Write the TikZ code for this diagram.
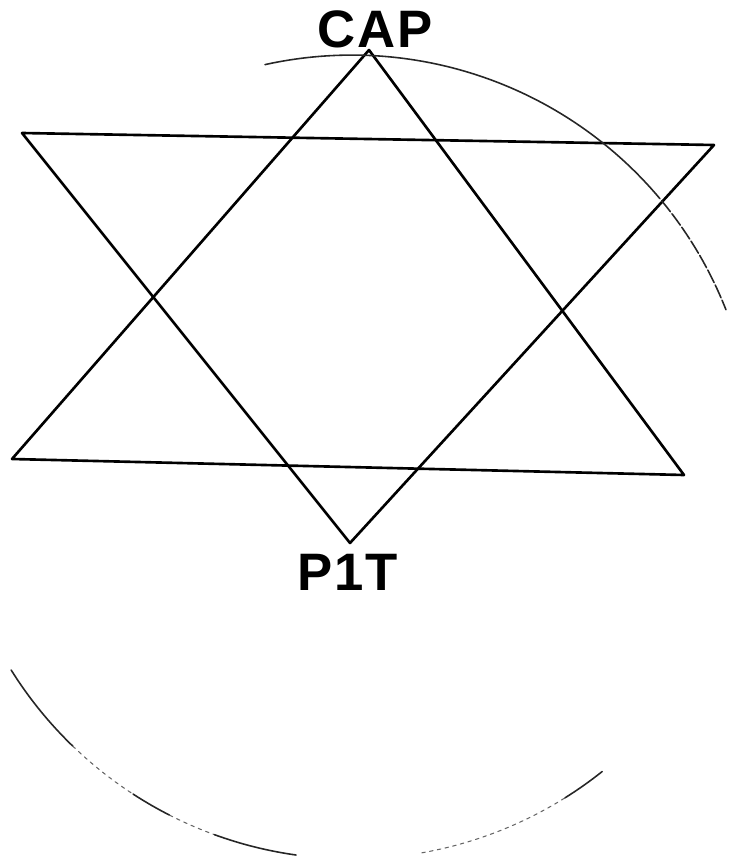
\documentclass[tikz,border=0pt]{standalone}
\usepackage{fontspec}
\setsansfont{Liberation Sans}
\begin{document}
\begin{tikzpicture}[x=0.02cm, y=-0.02cm, line cap=round, line join=round,
    every node/.style={font=\sffamily\bfseries\fontsize{30}{30}\selectfont, inner sep=0pt},
    starline/.style={line width=1.5pt},
    rim/.style={line width=0.9pt, black!85},
    rimfaint/.style={line width=0.6pt, black!60, dash pattern=on 2pt off 2.5pt}]
  \useasboundingbox (0,0) rectangle (729,862);
  % star points
  \coordinate (top) at (369,50);
  \coordinate (lowleft) at (12,459);
  \coordinate (lowright) at (684,475);
  \coordinate (upleft) at (22,133);
  \coordinate (upright) at (714,145);
  \coordinate (bottom) at (350,543);
  \coordinate (centre) at (352,457);
  % labels
  \node (cap) at (375,29) {C\kern1pt A\kern1pt P};
  \node (pit) at (348,572) {P\kern1pt 1\kern1pt T};
  % two triangles
  \draw[starline] (top) -- (lowleft) -- (lowright) -- cycle;
  \draw[starline] (upleft) -- (upright) -- (bottom) -- cycle;
  % the circle, drawn in pieces
  \draw[rim] (centre) ++(102.5:8.04cm) arc[start angle=102.5, end angle=42, radius=8.04cm];
  \draw[rim, dash pattern=on 8pt off 1.5pt] (centre) ++(42:8.04cm) arc[start angle=42, end angle=21.5, radius=8.04cm];
  \draw[rim] (centre) ++(212:8.04cm) arc[start angle=212, end angle=226, radius=8.04cm];
  \draw[rimfaint] (centre) ++(226:8.04cm) arc[start angle=226, end angle=237, radius=8.04cm];
  \draw[rim] (centre) ++(237:8.04cm) arc[start angle=237, end angle=243, radius=8.04cm];
  \draw[rimfaint] (centre) ++(243:8.04cm) arc[start angle=243, end angle=250, radius=8.04cm];
  \draw[rim] (centre) ++(250:8.04cm) arc[start angle=250, end angle=262, radius=8.04cm];
  \draw[rimfaint] (centre) ++(280:8.04cm) arc[start angle=280, end angle=302, radius=8.04cm];
  \draw[rim] (centre) ++(302:8.04cm) arc[start angle=302, end angle=308.5, radius=8.04cm];
\end{tikzpicture}
\end{document}
